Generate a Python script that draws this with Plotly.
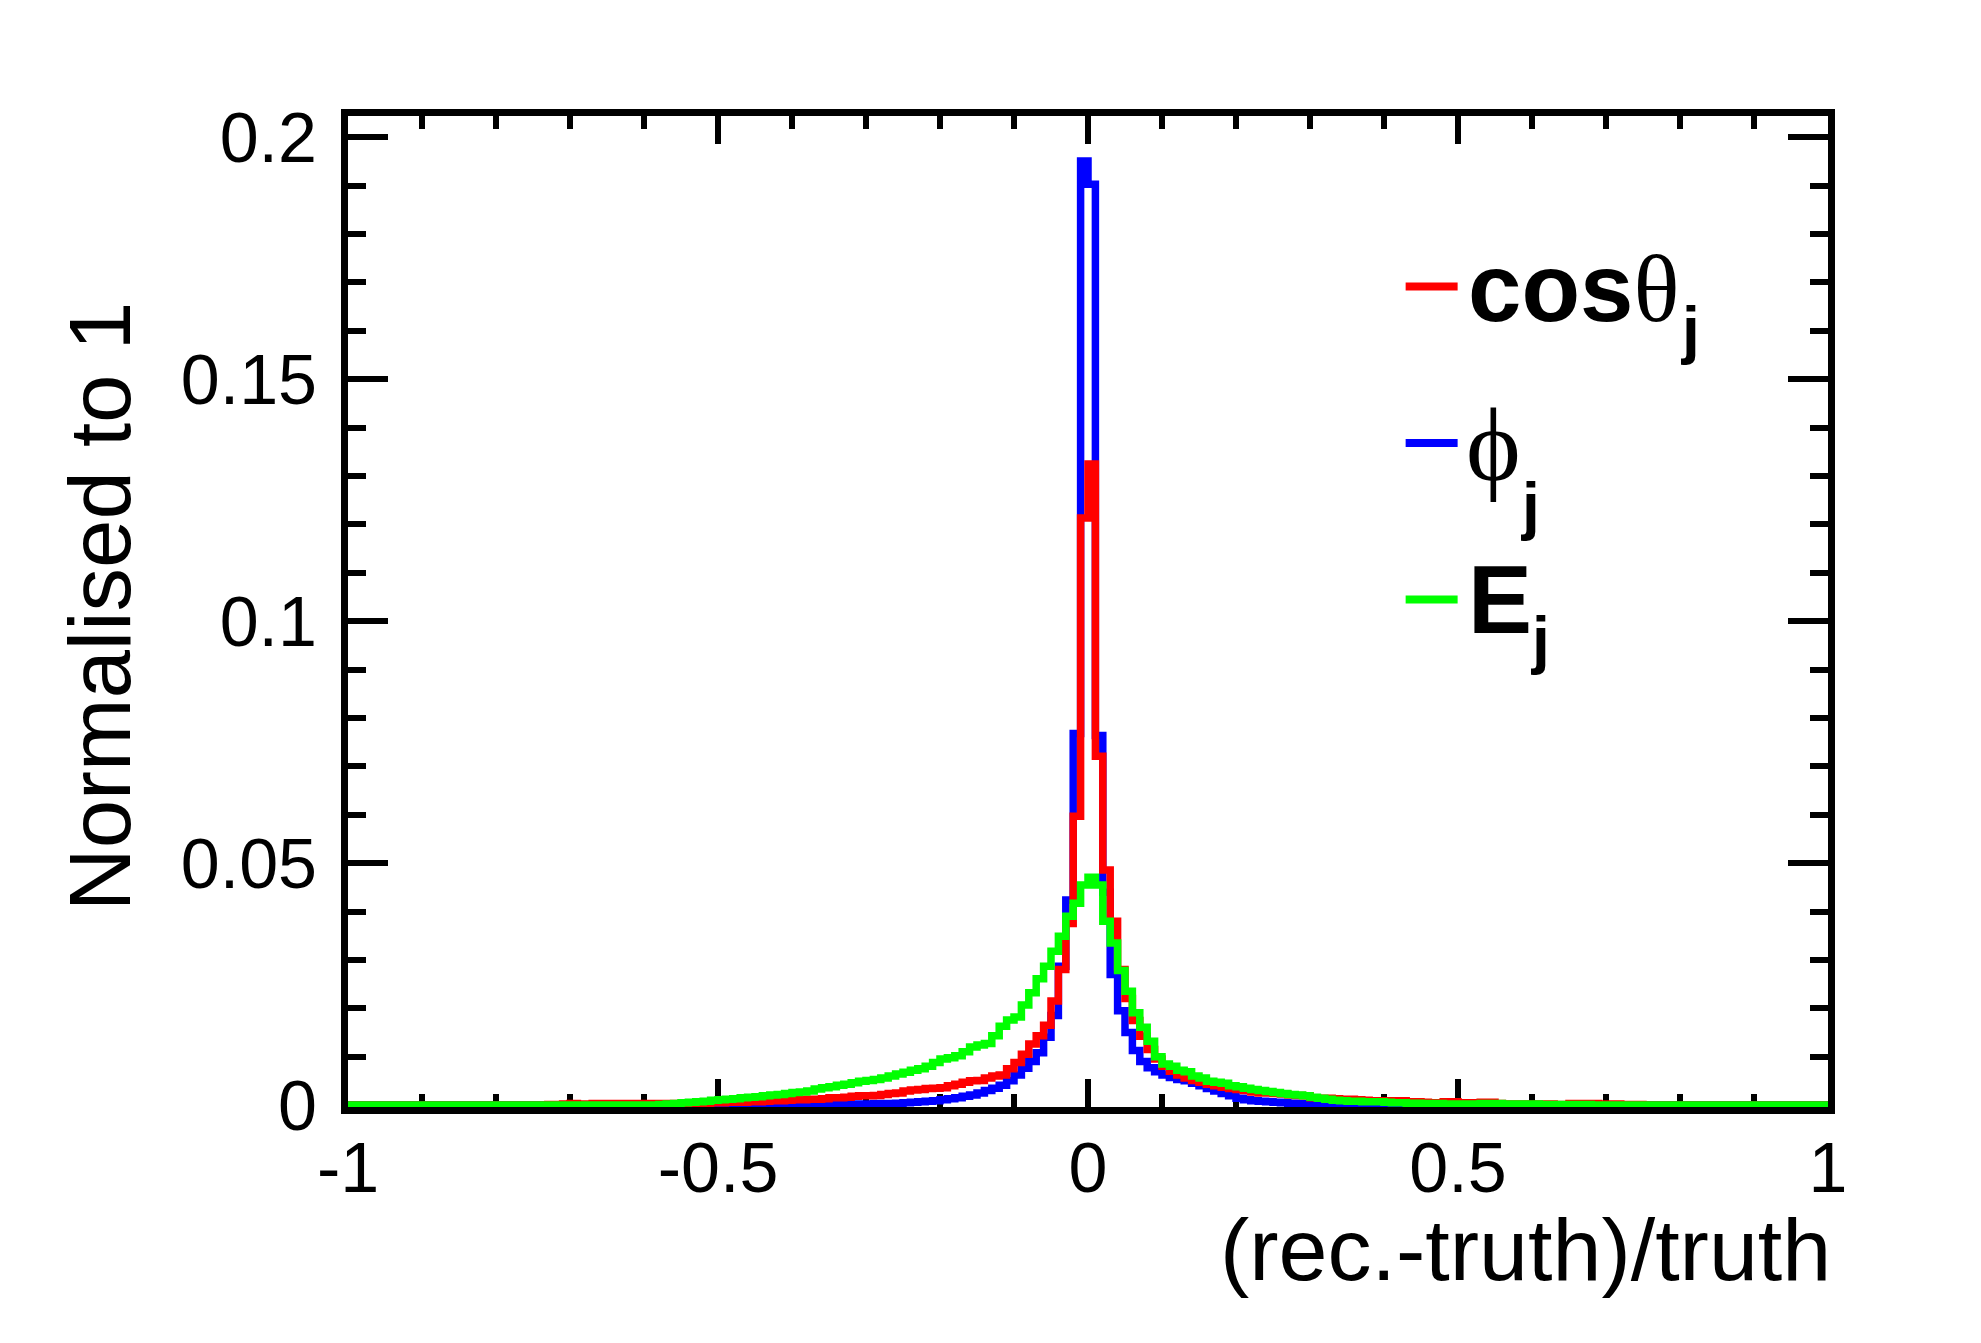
import numpy as np
import plotly.graph_objects as go

# ---------------- data (200 bins of width 0.01 from -1 to 1) ----------------
bin_lo, bin_hi, n_bins = -1.0, 1.0, 200

cos_theta_j = [
    0, 0, 0, 0, 0, 0, 0, 0, 0, 0,                                   # -1.00 .. -0.91
    0, 0, 0, 0, 0, 0, 0, 0, 0, 0,                                   # -0.90 .. -0.81
    0, 0, 0, 0, 0, 0, 0, 0.0001, 0.0001, 0.0002,                    # -0.80 .. -0.71
    0.0003, 0.0002, 0.0002, 0.0003, 0.0003, 0.0003, 0.0003, 0.0003, 0.0003, 0.0003,
    0.0003, 0.0003, 0.0003, 0.0003, 0.0003, 0.0003, 0.0003, 0.0004, 0.0004, 0.0005,
    0.0005, 0.0006, 0.0006, 0.0006, 0.0007, 0.0007, 0.0008, 0.0009, 0.0009, 0.0010,
    0.0011, 0.0011, 0.0012, 0.0012, 0.0013, 0.0015, 0.0015, 0.0016, 0.0018, 0.0019,
    0.0019, 0.0020, 0.0022, 0.0024, 0.0025, 0.0029, 0.0031, 0.0032, 0.0034, 0.0035,
    0.0036, 0.0040, 0.0043, 0.0047, 0.0050, 0.0051, 0.0056, 0.0060, 0.0062, 0.0075,
    0.0088, 0.0105, 0.0126, 0.0143, 0.0165, 0.0215, 0.0280, 0.0375, 0.0597, 0.1213,
    0.1325, 0.0721, 0.0486, 0.0380, 0.0280, 0.0220, 0.0175, 0.0142, 0.0115, 0.0095,
    0.0080, 0.0070, 0.0062, 0.0056, 0.0051, 0.0047, 0.0043, 0.0040, 0.0037, 0.0034,
    0.0032, 0.0030, 0.0027, 0.0025, 0.0025, 0.0024, 0.0023, 0.0021, 0.0020, 0.0019,
    0.0015, 0.0014, 0.0014, 0.0013, 0.0012, 0.0012, 0.0011, 0.0010, 0.0009, 0.0009,
    0.0009, 0.0009, 0.0009, 0.0007, 0.0007, 0.0006, 0.0005, 0.0005, 0.0007, 0.0007,
    0.0005, 0.0005, 0.0005, 0.0006, 0.0006, 0.0003, 0.0002, 0.0002, 0.0002, 0.0002,
    0.0002, 0.0002, 0.0002, 0.0001, 0.0001, 0.0003, 0.0003, 0.0003, 0.0003, 0.0002,
    0.0002, 0.0002, 0.0001, 0.0001, 0.0001, 0, 0, 0, 0, 0,
    0, 0, 0, 0, 0, 0, 0, 0, 0, 0,
    0, 0, 0, 0, 0, 0, 0, 0, 0, 0,
]

phi_j = [
    0, 0, 0, 0, 0, 0, 0, 0, 0, 0,
    0, 0, 0, 0, 0, 0, 0, 0, 0, 0,
    0, 0, 0, 0, 0, 0, 0, 0, 0, 0,
    0, 0, 0, 0, 0, 0, 0, 0, 0, 0,
    0, 0, 0, 0, 0, 0, 0, 0, 0, 0,
    0, 0, 0, 0, 0.0001, 0.0001, 0.0001, 0.0001, 0.0001, 0.0001,
    0.0001, 0.0001, 0.0001, 0.0001, 0.0002, 0.0002, 0.0002, 0.0002, 0.0002, 0.0002,
    0.0002, 0.0003, 0.0003, 0.0003, 0.0004, 0.0005, 0.0006, 0.0007, 0.0008, 0.0009,
    0.0011, 0.0013, 0.0015, 0.0018, 0.0021, 0.0025, 0.0030, 0.0035, 0.0041, 0.0050,
    0.0062, 0.0076, 0.0090, 0.0108, 0.0140, 0.0185, 0.0287, 0.0424, 0.0768, 0.1951,
    0.1903, 0.0764, 0.0440, 0.0270, 0.0195, 0.0150, 0.0113, 0.0090, 0.0077, 0.0069,
    0.0062, 0.0057, 0.0053, 0.0050, 0.0045, 0.0040, 0.0034, 0.0029, 0.0024, 0.0019,
    0.0014, 0.0011, 0.0009, 0.0008, 0.0007, 0.0006, 0.0005, 0.0004, 0.0003, 0.0003,
    0.0003, 0.0002, 0.0002, 0.0002, 0.0002, 0.0002, 0.0002, 0.0001, 0.0001, 0.0001,
    0.0001, 0.0001, 0.0001, 0.0001, 0.0001, 0.0001, 0.0001, 0.0001, 0.0001, 0.0001,
    0, 0, 0, 0, 0, 0, 0, 0, 0, 0,
    0, 0, 0, 0, 0, 0, 0, 0, 0, 0,
    0, 0, 0, 0, 0, 0, 0, 0, 0, 0,
    0, 0, 0, 0, 0, 0, 0, 0, 0, 0,
    0, 0, 0, 0, 0, 0, 0, 0, 0, 0,
]

E_j = [
    0, 0, 0, 0, 0, 0, 0, 0, 0, 0,
    0, 0, 0, 0, 0, 0, 0, 0, 0, 0,
    0, 0, 0, 0, 0, 0, 0, 0, 0, 0,
    0, 0, 0, 0, 0, 0, 0, 0, 0, 0,
    0, 0, 0.0001, 0.0002, 0.0003, 0.0005, 0.0006, 0.0007, 0.0008, 0.0010,
    0.0011, 0.0012, 0.0013, 0.0015, 0.0016, 0.0017, 0.0019, 0.0021, 0.0022, 0.0024,
    0.0026, 0.0027, 0.0029, 0.0033, 0.0036, 0.0038, 0.0041, 0.0043, 0.0046, 0.0049,
    0.0051, 0.0053, 0.0056, 0.0060, 0.0064, 0.0068, 0.0072, 0.0075, 0.0080, 0.0088,
    0.0095, 0.0098, 0.0102, 0.0110, 0.0120, 0.0124, 0.0127, 0.0143, 0.0163, 0.0176,
    0.0182, 0.0207, 0.0232, 0.0261, 0.0287, 0.0318, 0.0349, 0.0390, 0.0417, 0.0455,
    0.0471, 0.0455, 0.0380, 0.0335, 0.0278, 0.0235, 0.0191, 0.0161, 0.0132, 0.0100,
    0.0085, 0.0080, 0.0072, 0.0069, 0.0060, 0.0056, 0.0049, 0.0047, 0.0045, 0.0040,
    0.0038, 0.0035, 0.0032, 0.0030, 0.0028, 0.0026, 0.0024, 0.0022, 0.0021, 0.0019,
    0.0016, 0.0014, 0.0012, 0.0010, 0.0009, 0.0008, 0.0008, 0.0007, 0.0007, 0.0007,
    0.0006, 0.0005, 0.0005, 0.0004, 0.0004, 0.0003, 0.0003, 0.0003, 0.0002, 0.0002,
    0.0002, 0.0002, 0.0002, 0.0003, 0.0003, 0.0003, 0.0002, 0.0002, 0.0002, 0.0002,
    0.0002, 0.0001, 0.0001, 0.0001, 0.0001, 0.0001, 0.0001, 0.0001, 0, 0,
    0, 0, 0, 0, 0, 0, 0, 0, 0, 0,
    0, 0, 0, 0, 0, 0, 0, 0, 0, 0,
    0, 0, 0, 0, 0, 0, 0, 0, 0, 0,
]

x_tick_vals = [-1, -0.5, 0, 0.5, 1]
x_tick_text = ["-1", "-0.5", "0", "0.5", "1"]
y_tick_vals = [0, 0.05, 0.1, 0.15, 0.2]
y_tick_text = ["0", "0.05", "0.1", "0.15", "0.2"]

x_title = "(rec.-truth)/truth"
y_title = "Normalised to 1"

# ---------------- layout geometry (page pixels) ----------------
# The page body keeps its default 8 px margin, so the figure starts at (8, 8)
# and is shrunk by 16 px so that no scrollbar appears.
OFF = 8
W, H = 1981 - 2 * OFF, 1343 - 2 * OFF
L, R, T, B = 348.0, 1828.5, 115.5, 1107.0   # plot area in page pixels
LW = 7.5


def px(xp):
    return (xp - L) / (R - L)


def py(yp):
    return (B - yp) / (B - T)


edges = np.linspace(bin_lo, bin_hi, n_bins + 1)


def step(vals):
    return list(edges), list(vals) + [vals[-1]]


fig = go.Figure()
series = [
    ("phi_j", phi_j, "#0000FF"),
    ("cos_theta_j", cos_theta_j, "#FF0000"),
    ("E_j", E_j, "#00FF00"),
]
for name, vals, col in series:
    xs, ys = step(vals)
    fig.add_trace(go.Scatter(
        x=xs, y=ys, mode="lines", name=name,
        line=dict(color=col, width=LW, shape="hv"),
        showlegend=False, hoverinfo="skip",
    ))

tick_font = dict(family="Liberation Sans, Arial, sans-serif", size=70, color="black")

fig.update_xaxes(
    range=[-1, 1], showgrid=False, zeroline=False, layer="below traces",
    showline=True, linecolor="black", linewidth=7, mirror="allticks",
    ticks="inside", ticklen=28, tickwidth=6, tickcolor="black",
    tickvals=x_tick_vals, ticktext=x_tick_text, tickfont=tick_font,
    ticklabelstandoff=-6,
    minor=dict(dtick=0.1, tick0=0, ticks="inside", ticklen=13, tickwidth=6,
               tickcolor="black", showgrid=False),
)
fig.update_yaxes(
    range=[-0.0004, 0.2044], showgrid=False, zeroline=False, layer="below traces",
    showline=True, linecolor="black", linewidth=7, mirror="allticks",
    ticks="inside", ticklen=40, tickwidth=6, tickcolor="black",
    tickvals=y_tick_vals, ticktext=y_tick_text, tickfont=tick_font,
    ticklabelstandoff=10,
    minor=dict(dtick=0.01, tick0=0, ticks="inside", ticklen=18, tickwidth=6,
               tickcolor="black", showgrid=False),
)

shapes = []

# legend (drawn manually, ROOT style)
leg_line_y = [286, 442.7, 599.3]
leg_cols = ["#FF0000", "#0000FF", "#00FF00"]
for yy, c in zip(leg_line_y, leg_cols):
    shapes.append(dict(type="line", xref="paper", yref="paper",
                       x0=px(1406), x1=px(1458), y0=py(yy), y1=py(yy),
                       line=dict(color=c, width=8)))

serif = "Liberation Serif, Times New Roman, serif"
sans = "Liberation Sans, Arial, sans-serif"
LEG = 96
SUB = 64

annotations = []


def ann(text, x, ymid, size, family=sans, anchor="left"):
    annotations.append(dict(
        text=text, xref="paper", yref="paper", x=px(x), y=py(ymid),
        xanchor=anchor, yanchor="middle", showarrow=False,
        font=dict(family=family, size=size, color="black"),
    ))


def base(b, size):
    return b - 0.3465 * size


ann("<b>cos</b><span style=\"font-family:'Liberation Serif'\">θ</span>", 1466, base(320.7, LEG), LEG)
ann("<b>j</b>", 1679, base(352, SUB), SUB)
ann("ϕ", 1464, 444.0, 104, family=serif)
ann("<b>j</b>", 1519, base(528, SUB), SUB)
ann("<b>E</b>", 1466, base(632.7, LEG), LEG)
ann("<b>j</b>", 1529, base(662, SUB), SUB)

# axis titles
annotations.append(dict(
    text=x_title, xref="paper", yref="paper", x=px(1834), y=py(base(1280, 88)),
    xanchor="right", yanchor="middle", showarrow=False,
    font=dict(family=sans, size=88, color="black"),
))
annotations.append(dict(
    text=y_title, xref="paper", yref="paper", x=px(129 - 0.3465 * 87), y=py(606),
    xanchor="center", yanchor="middle", textangle=-90, showarrow=False,
    font=dict(family=sans, size=87, color="black"),
))

fig.update_layout(
    width=W, height=H, autosize=False,
    margin=dict(l=L - OFF, r=W - (R - OFF), t=T - OFF, b=H - (B - OFF), pad=0),
    paper_bgcolor="white", plot_bgcolor="white",
    shapes=shapes, annotations=annotations, showlegend=False,
)

fig.write_html("out.html")
